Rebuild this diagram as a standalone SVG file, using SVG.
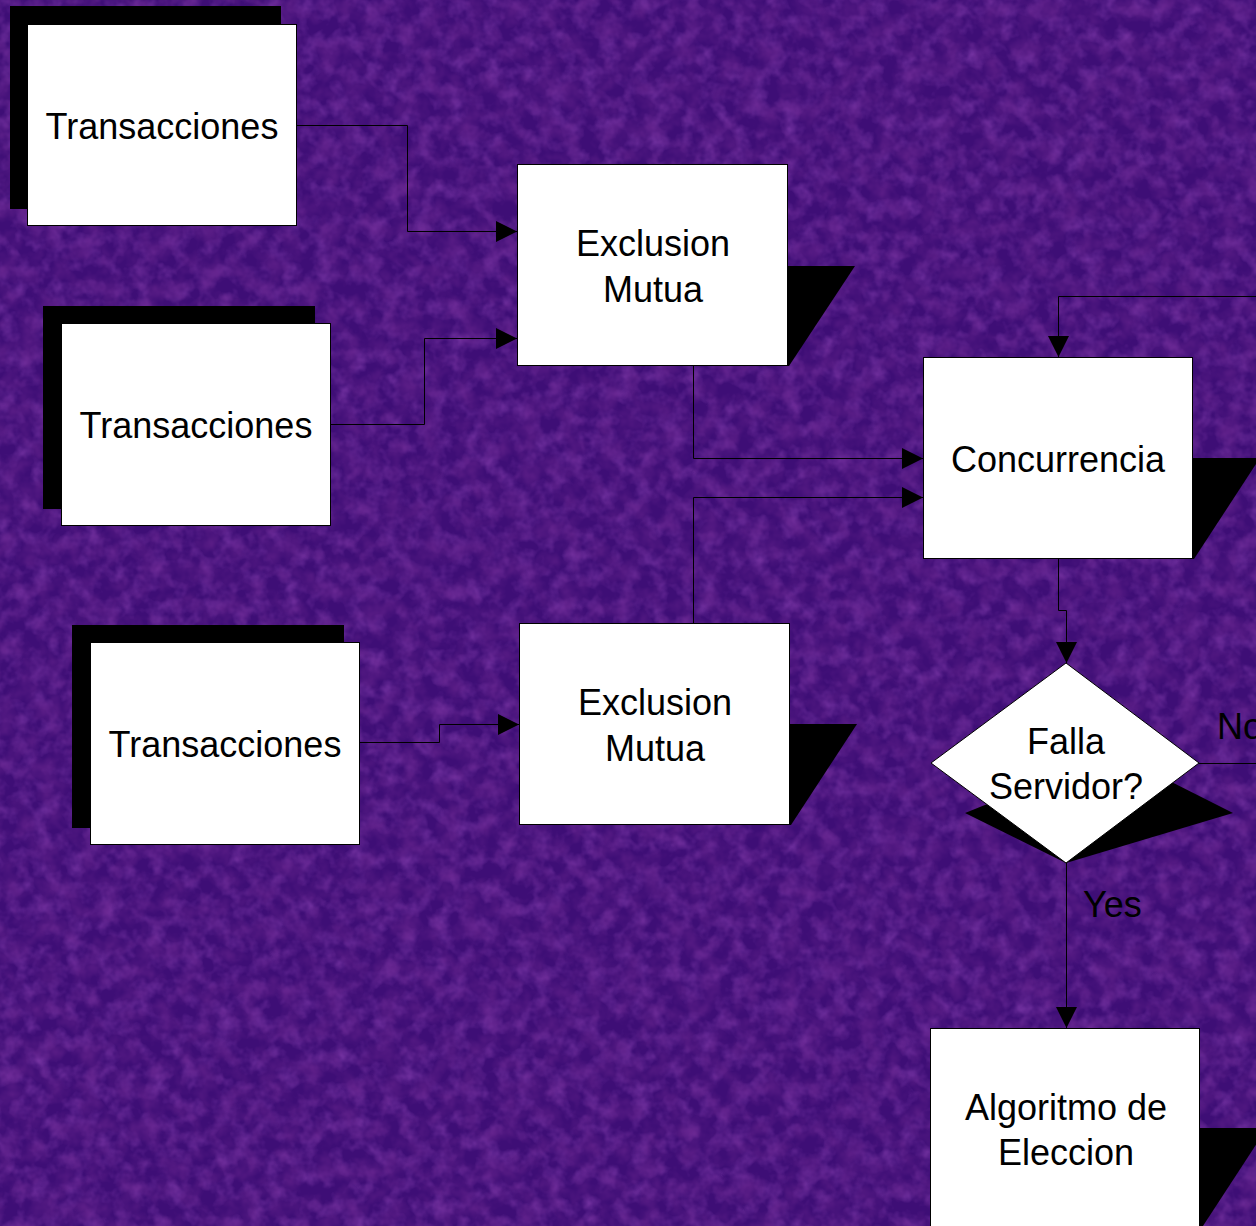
<svg xmlns="http://www.w3.org/2000/svg" width="1256" height="1226" viewBox="0 0 1256 1226">
<defs>
<style>
.box{fill:#ffffff;stroke:#000000;stroke-width:1}
.sh{fill:#000000;stroke:none}
.lbl{font-family:"Liberation Sans",Arial,sans-serif;font-size:36px;fill:#000000;text-anchor:middle}
.edge{fill:none;stroke:#000000;stroke-width:1}
.elbl{font-family:"Liberation Sans",Arial,sans-serif;font-size:36px;fill:#000000}
</style>
<marker id="arr" markerUnits="userSpaceOnUse" markerWidth="21" markerHeight="21" refX="20" refY="10" orient="auto" viewBox="0 0 20 20">
<path d="M0,0 L20,10 L0,20 z" fill="#000000"/>
</marker>
<filter id="tex" x="0" y="0" width="100%" height="100%">
<feTurbulence type="fractalNoise" baseFrequency="0.06" numOctaves="3" seed="7" result="n"/>
<feColorMatrix in="n" type="matrix" values="0 0 0 0 0.42  0 0 0 0 0.10  0 0 0 0 0.62  0.9 0 0 0 -0.38"/>
</filter>
<filter id="tex2" x="0" y="0" width="100%" height="100%">
<feTurbulence type="fractalNoise" baseFrequency="0.05" numOctaves="3" seed="21" result="n"/>
<feColorMatrix in="n" type="matrix" values="0 0 0 0 0.15  0 0 0 0 0.02  0 0 0 0 0.28  0 1.2 0 0 -0.45"/>
</filter>
</defs>
<g id="background">
<rect x="0" y="0" width="1256" height="1226" fill="#3e0e76"/>
<rect x="0" y="0" width="1256" height="1226" filter="url(#tex)"/>
<rect x="0" y="0" width="1256" height="1226" filter="url(#tex2)"/>
</g>
<g id="connectors">
<polyline class="edge" points="297,125.5 407.5,125.5 407.5,231.5 517,231.5" marker-end="url(#arr)"/>
<polyline class="edge" points="331,424.5 424.5,424.5 424.5,338.5 517,338.5" marker-end="url(#arr)"/>
<polyline class="edge" points="360,742.5 439.5,742.5 439.5,724.5 519,724.5" marker-end="url(#arr)"/>
<polyline class="edge" points="693.5,366 693.5,458.5 923,458.5" marker-end="url(#arr)"/>
<polyline class="edge" points="693.5,623 693.5,497.5 923,497.5" marker-end="url(#arr)"/>
<polyline class="edge" points="1058.5,559 1058.5,610.5 1066.5,610.5 1066.5,663" marker-end="url(#arr)"/>
<polyline class="edge" points="1199,763.5 1260,763.5"/>
<polyline class="edge" points="1260,296.5 1058.5,296.5 1058.5,357" marker-end="url(#arr)"/>
<polyline class="edge" points="1066.5,863 1066.5,1028" marker-end="url(#arr)"/>
<text class="elbl" x="1217" y="739">No</text>
<text class="elbl" x="1083" y="917">Yes</text>
</g>
<g id="trans1">
<rect class="sh" x="10" y="6" width="271" height="203"/>
<rect class="box" x="27.5" y="24.5" width="269" height="201"/>
<text class="lbl" x="162" y="139">Transacciones</text>
</g>
<g id="trans2">
<rect class="sh" x="43" y="306" width="272" height="203"/>
<rect class="box" x="61.5" y="323.5" width="269" height="202"/>
<text class="lbl" x="196" y="438">Transacciones</text>
</g>
<g id="trans3">
<rect class="sh" x="72" y="625" width="272" height="203"/>
<rect class="box" x="90.5" y="642.5" width="269" height="202"/>
<text class="lbl" x="225" y="757">Transacciones</text>
</g>
<g id="excl1">
<polygon class="sh" points="788,266 855,266 789,366 788,366"/>
<rect class="box" x="517.5" y="164.5" width="270" height="201"/>
<text class="lbl" x="653" y="256">Exclusion</text>
<text class="lbl" x="653" y="302">Mutua</text>
</g>
<g id="excl2">
<polygon class="sh" points="790,724 857,724 791,825 790,825"/>
<rect class="box" x="519.5" y="623.5" width="270" height="201"/>
<text class="lbl" x="655" y="715">Exclusion</text>
<text class="lbl" x="655" y="761">Mutua</text>
</g>
<g id="concurrencia">
<polygon class="sh" points="1193,458 1260,458 1194,559 1193,559"/>
<rect class="box" x="923.5" y="357.5" width="269" height="201"/>
<text class="lbl" x="1058" y="472">Concurrencia</text>
</g>
<g id="falla">
<polygon class="sh" points="965,813 1114,753 1233,813 1066,863"/>
<polygon class="box" points="1066,663 1199,763 1066,863 931,763"/>
<text class="lbl" x="1066" y="754">Falla</text>
<text class="lbl" x="1066" y="799">Servidor?</text>
</g>
<g id="algoritmo">
<polygon class="sh" points="1200,1128 1267,1128 1201,1229 1200,1229"/>
<rect class="box" x="930.5" y="1028.5" width="269" height="210"/>
<text class="lbl" x="1066" y="1120">Algoritmo de</text>
<text class="lbl" x="1066" y="1165">Eleccion</text>
</g>
</svg>
